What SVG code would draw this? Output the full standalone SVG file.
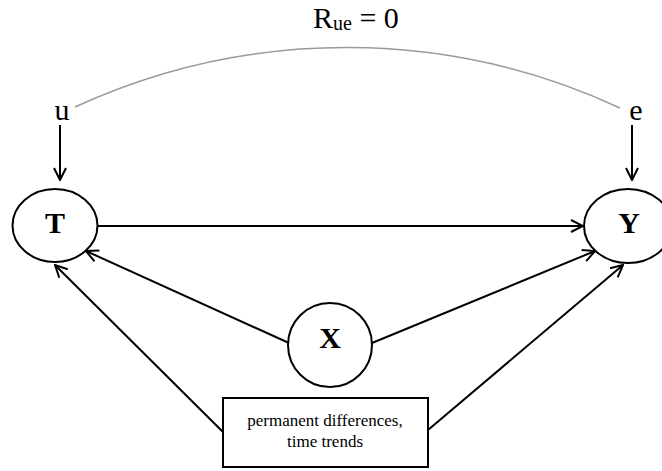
<svg xmlns="http://www.w3.org/2000/svg" width="662" height="471" viewBox="0 0 662 471">
<style>
.t{font-family:"Liberation Serif","Times New Roman",serif;fill:#000}
.node{fill:none;stroke:#000;stroke-width:2}
.edge{stroke:#000;stroke-width:2;fill:none;marker-end:url(#arr)}
.big{font-size:30px}
.b{font-weight:bold;font-size:30px}
.small{font-size:17px}
</style>
<defs>
<marker id="arr" viewBox="0 0 14 14" refX="13" refY="7" markerWidth="14" markerHeight="14" markerUnits="userSpaceOnUse" orient="auto">
<path d="M1,1 L13,7 L1,13" fill="none" stroke="#000" stroke-width="2"/>
</marker>
</defs>
<rect width="662" height="471" fill="#fff"/>
<g id="correlation">
<path d="M75,107 A649,649 0 0 1 620,108" fill="none" stroke="#999" stroke-width="1.5"/>
<text class="t big" x="313" y="28">R<tspan font-size="20" dy="2">ue</tspan><tspan dy="-2"> = 0</tspan></text>
</g>
<g id="u"><text class="t big" x="62" y="120" text-anchor="middle">u</text></g>
<g id="e"><text class="t big" x="636" y="120" text-anchor="middle">e</text></g>
<g id="T">
<ellipse class="node" cx="55" cy="225.5" rx="42.5" ry="36.5"/>
<text class="t b" x="55" y="233" text-anchor="middle">T</text>
</g>
<g id="Y">
<ellipse class="node" cx="628" cy="226" rx="44" ry="37"/>
<text class="t b" x="629" y="233" text-anchor="middle">Y</text>
</g>
<g id="X">
<circle class="node" cx="330" cy="345" r="42"/>
<text class="t b" x="330" y="348" text-anchor="middle">X</text>
</g>
<g id="box">
<rect class="node" x="223" y="398" width="205" height="69"/>
<text class="t small" x="325" y="426" text-anchor="middle">permanent differences,</text>
<text class="t small" x="325" y="447" text-anchor="middle">time trends</text>
</g>
<g id="connectors">
<line class="edge" x1="60" y1="125" x2="60" y2="180"/>
<line class="edge" x1="632" y1="125" x2="632" y2="180"/>
<line class="edge" x1="97" y1="226" x2="583" y2="226"/>
<line class="edge" x1="289" y1="343" x2="86" y2="251"/>
<line class="edge" x1="372" y1="343" x2="595" y2="251"/>
<line class="edge" x1="223" y1="432" x2="55" y2="265"/>
<line class="edge" x1="428" y1="430" x2="623" y2="265"/>
</g>
</svg>
